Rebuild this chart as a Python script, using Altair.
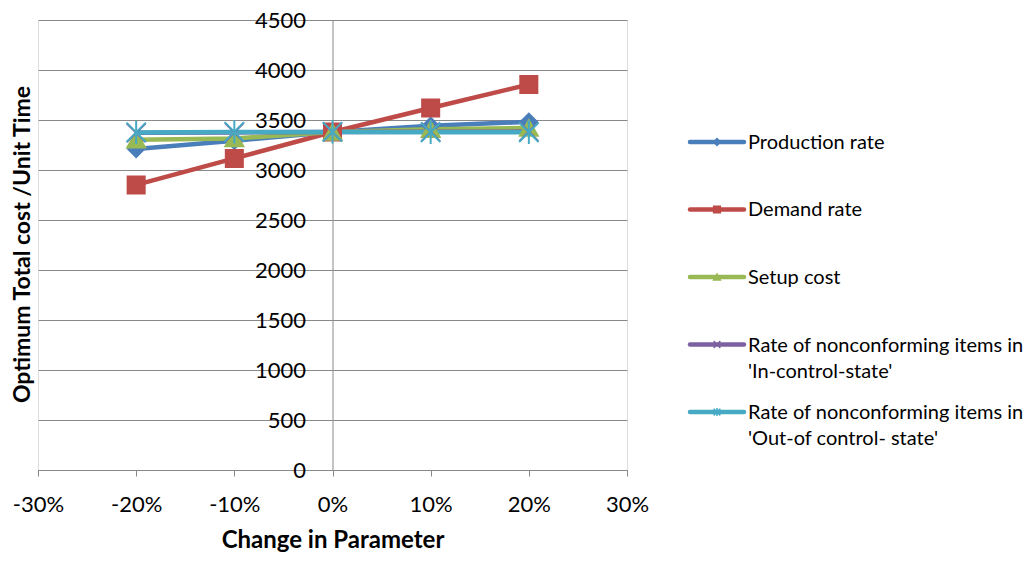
import altair as alt
import pandas as pd

changes = [-20, -10, 0, 10, 20]
production_rate = [3210, 3292, 3380, 3442, 3482]
demand_rate = [2851, 3116, 3380, 3620, 3855]
setup_cost = [3302, 3315, 3380, 3408, 3420]
in_control = [3372, 3376, 3380, 3382, 3384]
out_control = [3376, 3381, 3381, 3378, 3378]

series_names = [
    "Production rate",
    "Demand rate",
    "Setup cost",
    "Rate of nonconforming items in 'In-control-state'",
    "Rate of nonconforming items in 'Out-of control- state'",
]
legend_labels = [
    "Production rate",
    "Demand rate",
    "Setup cost",
    "Rate of nonconforming items in\n'In-control-state'",
    "Rate of nonconforming items in\n'Out-of control- state'",
]
colors = ["#4A7EBB", "#BE4B48", "#98B954", "#7D60A0", "#46AAC5"]
shapes = [
    "diamond",
    "square",
    "triangle-up",
    "M-1,-1L1,1M-1,1L1,-1",
    "M-1,-1L1,1M-1,1L1,-1M0,-1.2L0,1.2",
]
marker_sizes = [260, 380, 260, 230, 300]

all_values = [production_rate, demand_rate, setup_cost, in_control, out_control]
rows = []
for si, (name, vals) in enumerate(zip(series_names, all_values)):
    for x, v in zip(changes, vals):
        rows.append({"series": name, "order": si, "change": x, "value": v})
df = pd.DataFrame(rows)

leg_df = pd.DataFrame({"series": series_names, "label": legend_labels,
                       "idx": list(range(len(series_names)))})

FONT = "Lato"
GRID = "#898989"

color_scale = alt.Scale(domain=series_names, range=colors)
shape_scale = alt.Scale(domain=series_names, range=shapes)
size_scale = alt.Scale(domain=series_names, range=marker_sizes)

x_enc = alt.X(
    "change:Q",
    scale=alt.Scale(domain=[-30, 30], nice=False),
    axis=alt.Axis(
        values=[-30, -20, -10, 0, 10, 20, 30],
        labelExpr="datum.value + '%'",
        labelFlush=False,
        grid=False,
        domainColor=GRID,
        tickColor=GRID,
        tickSize=6,
        labelPadding=18,
        labelFontSize=22,
        labelFont=FONT,
        labelColor="black",
        title="Change in Parameter",
        titleFont=FONT,
        titleFontSize=24,
        titleFontWeight="bold",
        titleColor="black",
        titlePadding=13,
    ),
)

y_scale = alt.Scale(domain=[0, 4500], nice=False)
y_axis = alt.Axis(
    values=list(range(0, 4501, 500)),
    format="d",
    offset=-294.5,
    grid=True,
    gridColor=GRID,
    gridWidth=1,
    domainColor=GRID,
    tickColor=GRID,
    tickSize=5,
    labelPadding=22,
    labelFontSize=22,
    labelFont=FONT,
    labelColor="black",
    title="Optimum Total cost /Unit Time",
    titleX=-310,
    titleY=224,
    titleAngle=270,
    titleAlign="center",
    titleBaseline="middle",
    titleFont=FONT,
    titleFontSize=23,
    titleFontWeight="bold",
    titleColor="black",
)

lines = alt.Chart(df).mark_line(strokeWidth=4.5, strokeJoin="round").encode(
    x=x_enc,
    y=alt.Y("value:Q", scale=y_scale, axis=y_axis),
    color=alt.Color("series:N", scale=color_scale, legend=None),
    order="change:Q",
)

points = alt.Chart(df).mark_point(filled=True, opacity=1, strokeWidth=2).encode(
    x=alt.X("change:Q", scale=alt.Scale(domain=[-30, 30], nice=False)),
    y=alt.Y("value:Q", scale=y_scale),
    color=alt.Color("series:N", scale=color_scale, legend=None),
    stroke=alt.Stroke("series:N", scale=color_scale, legend=None),
    shape=alt.Shape("series:N", scale=shape_scale, legend=None),
    size=alt.Size("series:N", scale=size_scale, legend=None),
)

main = alt.layer(lines, points)

leg_y = alt.Y("idx:Q", scale=alt.Scale(domain=[-1.807, 4.859], reverse=True, nice=False, zero=False), axis=None)

leg_rule = alt.Chart(leg_df).mark_rule(strokeWidth=4.5, strokeCap="round").encode(
    x=alt.value(652), x2=alt.value(706), y=leg_y,
    color=alt.Color("series:N", scale=color_scale, legend=None),
)
leg_pt = alt.Chart(leg_df).mark_point(filled=True, opacity=1, strokeWidth=1.5, size=45).encode(
    x=alt.value(679), y=leg_y,
    color=alt.Color("series:N", scale=color_scale, legend=None),
    stroke=alt.Stroke("series:N", scale=color_scale, legend=None),
    shape=alt.Shape("series:N", scale=shape_scale, legend=None),
)
leg_text = alt.Chart(leg_df).mark_text(
    align="left", baseline="alphabetic", dy=7, lineBreak="\n", lineHeight=26,
    font=FONT, fontSize=20, color="black"
).encode(
    x=alt.value(710), y=leg_y, text="label:N",
)
legend = alt.layer(leg_rule, leg_pt, leg_text)

chart = alt.layer(main, legend).resolve_scale(y="independent").properties(
    width=589,
    height=450,
    autosize=alt.AutoSizeParams(type="none"),
    padding={"left": 30, "top": 12, "right": 400, "bottom": 83},
).configure_view(stroke=None).configure(background="white")

chart.save("out.html", embed_options={"renderer": "svg", "actions": False})
